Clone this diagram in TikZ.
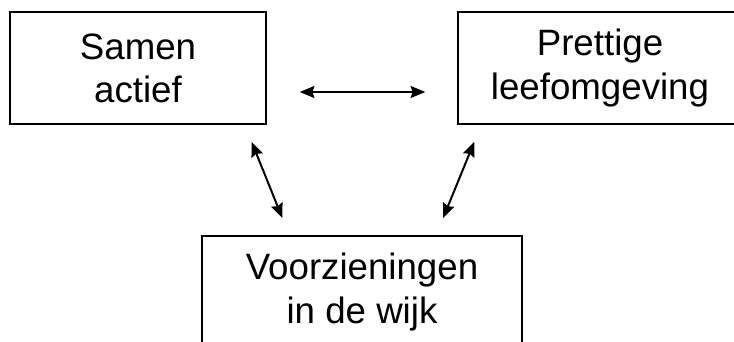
\documentclass[tikz,border=0pt]{standalone}
\usepackage{fontspec}
\setmainfont{Liberation Sans}
\usetikzlibrary{arrows.meta}

\begin{document}
\begin{tikzpicture}
[x=0.75pt,y=-0.75pt,%
  every node/.style={shape=rectangle,draw,line width=1.1pt,inner sep=0pt,
    align=center,font=\fontsize{27.5}{32.3}\selectfont},%
  dbl/.style={{Stealth[length=11pt,width=9pt,inset=1.5pt]}-{Stealth[length=11pt,width=9pt,inset=1.5pt]},line width=1.5pt}]
\path[use as bounding box,clip] (0,0) rectangle (734,342);
\node[minimum width=192pt,minimum height=84pt] (samen) at (138,68) {Samen\\actief};
%%
\node[minimum width=213pt,minimum height=84pt] (prettig) at (600,68) {Prettige\\leefomgeving};
%%
\node[minimum width=240pt,minimum height=84pt] (voorz) at (362,292) {Voorzieningen\\in de wijk};
%%
\draw[dbl,shorten <=24.75pt,shorten >=24pt]
  ([yshift=-18pt]samen.east) -- ([yshift=-18pt]prettig.west);
\draw[dbl,shorten <=13.9pt,shorten >=13.9pt]
  ([xshift=-16.5pt]samen.south east) -- ([xshift=66pt]voorz.north west);
\draw[dbl,shorten <=13.9pt,shorten >=13.9pt]
  ([xshift=18pt]prettig.south west) -- ([xshift=-65pt]voorz.north east);
\end{tikzpicture}
\end{document}
